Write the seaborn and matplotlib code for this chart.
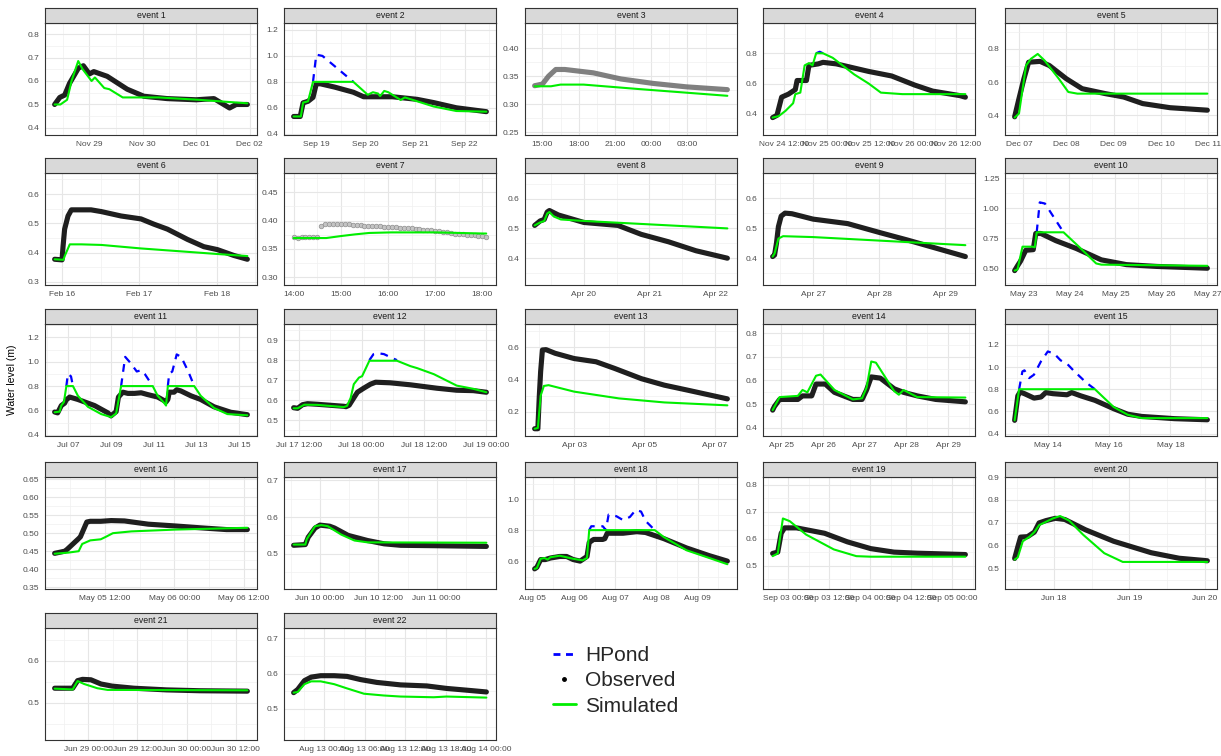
import numpy as np
import pandas as pd
import matplotlib
matplotlib.use("Agg")
import matplotlib.pyplot as plt
import matplotlib.dates as mdates
from matplotlib.lines import Line2D
from matplotlib.ticker import FixedLocator, FormatStrFormatter
import seaborn as sns

# 1. Dati (ore dall'inizio di ogni evento, livello in m)

base1 = "2016-11-28"
obs_t1 = [8.4, 10.7, 12.9, 15.1, 19.1, 21.3, 24, 26, 32, 41, 48.5, 59, 72, 80, 87, 90, 95]
obs_v1 = [0.50, 0.53, 0.54, 0.59, 0.655, 0.665, 0.63, 0.64, 0.62, 0.565, 0.535, 0.525, 0.52, 0.525, 0.485, 0.50, 0.50]
sim_t1 = [8.4, 11, 14, 16, 19, 21, 25, 26.5, 30.7, 33, 39, 55, 73, 95]
sim_v1 = [0.50, 0.50, 0.52, 0.60, 0.685, 0.65, 0.60, 0.615, 0.57, 0.565, 0.53, 0.53, 0.52, 0.505]

base2 = "2016-09-18"
obs_t2 = [13, 16.2, 17.6, 20, 22.4, 24, 26, 32.8, 42, 47, 55, 61, 73, 81, 92, 106.6]
obs_v2 = [0.533, 0.533, 0.638, 0.65, 0.68, 0.785, 0.785, 0.76, 0.72, 0.685, 0.685, 0.685, 0.665, 0.64, 0.60, 0.57]
sim_t2 = [13, 16.5, 17.6, 20, 22.4, 42, 49, 51.5, 54, 55, 57, 59, 65, 67, 73, 81, 92, 106.6]
sim_v2 = [0.533, 0.533, 0.64, 0.65, 0.80, 0.80, 0.70, 0.72, 0.71, 0.69, 0.73, 0.72, 0.66, 0.68, 0.65, 0.61, 0.575, 0.57]
hp_t2 = [22.4, 24, 27, 42]
hp_v2 = [0.80, 1.01, 1.0, 0.80]

base3 = "2016-10-05 12:00"
obs_t3 = [2.35, 3.0, 3.5, 4.1, 4.85, 7.2, 9.5, 12.2, 14.9, 18.3]
obs_v3 = [0.333, 0.336, 0.35, 0.362, 0.362, 0.356, 0.345, 0.337, 0.331, 0.326]
sim_t3 = [2.35, 3.7, 4.5, 6.4, 11, 18.3]
sim_v3 = [0.332, 0.332, 0.335, 0.335, 0.327, 0.315]

base4 = "2016-11-24"
obs_t4 = [8.9, 10.1, 11.4, 13.3, 15.2, 15.7, 18.3, 19, 21.6, 22.9, 26.6, 35.6, 42, 48.4, 53.4, 61, 62.5]
obs_v4 = [0.375, 0.39, 0.51, 0.53, 0.56, 0.62, 0.62, 0.72, 0.73, 0.74, 0.73, 0.68, 0.65, 0.59, 0.55, 0.52, 0.51]
sim_t4 = [8.9, 10.6, 12.5, 14.6, 15.2, 16.6, 17.8, 19, 20, 21, 22.9, 25.6, 31.6, 35.6, 39, 45, 62.5]
sim_v4 = [0.375, 0.385, 0.42, 0.47, 0.53, 0.54, 0.72, 0.735, 0.72, 0.80, 0.80, 0.77, 0.66, 0.60, 0.54, 0.53, 0.53]
hp_t4 = [21, 22, 22.9]
hp_v4 = [0.80, 0.81, 0.80]

base5 = "2016-12-07"
obs_t5 = [-2.2, 0, 2.5, 4.9, 10.7, 15.4, 24, 32, 43.8, 53, 62.7, 76.6, 95.5]
obs_v5 = [0.39, 0.50, 0.62, 0.72, 0.725, 0.70, 0.62, 0.56, 0.53, 0.51, 0.47, 0.445, 0.43]
sim_t5 = [-2.2, 0, 3.6, 6, 9.5, 13, 20.2, 25, 29.6, 67.5, 95.5]
sim_v5 = [0.385, 0.41, 0.70, 0.74, 0.77, 0.73, 0.62, 0.54, 0.53, 0.53, 0.53]

base6 = "2017-02-16"
obs_t6 = [-2.3, 0, 0.3, 0.8, 1.85, 2.9, 9, 12.2, 18.3, 24.5, 28.5, 32.7, 38.9, 44, 48.2, 53.3, 57.5]
obs_v6 = [0.377, 0.375, 0.42, 0.48, 0.525, 0.546, 0.546, 0.54, 0.525, 0.515, 0.497, 0.48, 0.445, 0.42, 0.41, 0.39, 0.377]
sim_t6 = [-2.3, 0.4, 0.9, 2.4, 6, 12.2, 24.5, 48.2, 57.5]
sim_v6 = [0.377, 0.375, 0.39, 0.428, 0.428, 0.426, 0.414, 0.395, 0.388]

base7 = "2017-03-10 14:00"
obs_m7 = [0, 5, 10, 15, 20, 25, 30, 35, 40, 45, 50, 55, 60, 65, 70, 75, 80, 85, 90, 95, 100, 105, 110,
          115, 120, 125, 130, 135, 140, 145, 150, 155, 160, 165, 170, 175, 180, 185, 190, 195, 200,
          205, 210, 215, 220, 225, 230, 235, 240, 245]
obs_v7 = [0.370, 0.369, 0.370, 0.370, 0.371, 0.371, 0.370, 0.390, 0.393, 0.394, 0.394, 0.394, 0.393,
          0.393, 0.393, 0.392, 0.392, 0.392, 0.391, 0.391, 0.391, 0.390, 0.390, 0.389, 0.389, 0.388,
          0.388, 0.387, 0.387, 0.386, 0.386, 0.385, 0.385, 0.384, 0.383, 0.383, 0.382, 0.381, 0.380,
          0.379, 0.378, 0.377, 0.377, 0.376, 0.375, 0.375, 0.374, 0.373, 0.372, 0.370]
sim_t7 = [0, 0.69, 1.0, 1.3, 1.6, 2.06, 3.0, 4.02, 4.08]
sim_v7 = [0.369, 0.369, 0.3725, 0.3755, 0.378, 0.379, 0.379, 0.377, 0.377]

base8 = "2017-04-20"
obs_t8 = [-18, -16, -14.5, -13.4, -12.6, -9.3, 0, 12.5, 21, 31, 41, 52.5]
obs_v8 = [0.51, 0.525, 0.53, 0.555, 0.56, 0.545, 0.52, 0.51, 0.48, 0.455, 0.425, 0.40]
sim_t8 = [-18, -16, -14.5, -13.4, -12.6, -11, -8.4, 0, 52.5]
sim_v8 = [0.51, 0.52, 0.525, 0.55, 0.555, 0.54, 0.53, 0.525, 0.50]

base9 = "2017-04-27"
obs_t9 = [-14.7, -14, -13.3, -12.6, -11.6, -10.2, -7.7, 0, 12.6, 24.3, 34.4, 55.4]
obs_v9 = [0.405, 0.41, 0.45, 0.505, 0.54, 0.55, 0.548, 0.53, 0.515, 0.485, 0.46, 0.405]
sim_t9 = [-14.7, -14, -12.6, -10.9, 0, 55.4]
sim_v9 = [0.405, 0.415, 0.465, 0.473, 0.47, 0.443]

base10 = "2017-05-23"
obs_t10 = [-4.5, -3, -1.4, 1.3, 5.2, 6.5, 9.2, 17, 27.6, 40.7, 53.8, 69.7, 96]
obs_v10 = [0.48, 0.52, 0.56, 0.65, 0.655, 0.79, 0.79, 0.73, 0.665, 0.57, 0.53, 0.515, 0.50]
sim_t10 = [-4.5, -3, -0.4, 4.6, 6, 7, 21, 29, 38, 40.7, 96]
sim_v10 = [0.48, 0.49, 0.68, 0.68, 0.675, 0.80, 0.80, 0.68, 0.54, 0.53, 0.52]
hp_t10 = [7, 8.6, 11.3, 21]
hp_v10 = [0.80, 1.05, 1.04, 0.80]

base11 = "2017-07-07"
obs_t11 = [-15.4, -12, -7.9, -4.1, -2.2, 0, 1.5, 10.8, 29.5, 44.5, 48, 53.8, 56.4, 61.4, 67, 74.4, 82,
           89.4, 100.6, 108, 110, 112, 113.6, 119, 122, 126.7, 138, 149, 164, 182.8, 201.5]
obs_v11 = [0.587, 0.58, 0.64, 0.66, 0.69, 0.70, 0.71, 0.69, 0.64, 0.58, 0.555, 0.59, 0.71, 0.75, 0.74,
           0.74, 0.745, 0.73, 0.71, 0.68, 0.67, 0.69, 0.75, 0.75, 0.77, 0.76, 0.72, 0.69, 0.63, 0.585, 0.565]
sim_t11 = [-15.4, -9.8, -7.9, -4.9, -2.2, 5.2, 10.8, 22, 37, 48.2, 53.8, 59.4, 95, 100.6, 108, 110,
           112, 141.7, 149, 164, 179, 201.5]
sim_v11 = [0.585, 0.59, 0.64, 0.67, 0.80, 0.80, 0.72, 0.63, 0.57, 0.545, 0.575, 0.80, 0.80, 0.72,
           0.66, 0.64, 0.80, 0.80, 0.72, 0.62, 0.57, 0.56]
hp_t11 = [-2.2, -0.5, 3, 5.2, 59.4, 64, 70, 77, 82, 86, 95, 112, 113.5, 117, 122, 127, 135, 141.7]
hp_v11 = [0.80, 0.90, 0.88, 0.80, 0.80, 1.04, 0.99, 0.92, 0.93, 0.90, 0.80, 0.80, 0.90, 0.92, 1.06,
          1.04, 0.92, 0.80]
hp_s11 = [1, 1, 1, 1, 2, 2, 2, 2, 2, 2, 2, 3, 3, 3, 3, 3, 3, 3]

base12 = "2017-07-17 12:00"
obs_t12 = [-1.07, -0.3, 0.65, 1.6, 3.5, 8.6, 9, 9.6, 10.5, 11.2, 12.4, 13.7, 14.7, 17.5, 21.4, 26.5,
           30.3, 33.5, 36]
obs_v12 = [0.563, 0.56, 0.578, 0.583, 0.58, 0.57, 0.568, 0.575, 0.612, 0.64, 0.66, 0.68, 0.69, 0.687,
           0.677, 0.66, 0.65, 0.648, 0.64]
sim_t12 = [-1.07, -0.3, 1, 3.5, 8.6, 9.2, 9.9, 10.5, 11.5, 12.1, 13.5, 18.8, 21.4, 22.7, 25.9, 30.3, 33.5, 36]
sim_v12 = [0.56, 0.56, 0.578, 0.577, 0.566, 0.572, 0.612, 0.68, 0.713, 0.72, 0.797, 0.797, 0.77, 0.76,
           0.73, 0.673, 0.657, 0.64]
hp_t12 = [13.5, 14.3, 15, 16.3, 17.5, 18.8]
hp_v12 = [0.80, 0.83, 0.835, 0.83, 0.815, 0.80]

base13 = "2018-04-03"
obs_t13 = [-26.9, -24.7, -23.7, -22.8, -21.6, -19.1, -12.9, 0, 15, 27.6, 46, 61.6, 77, 104.6]
obs_v13 = [0.095, 0.095, 0.30, 0.45, 0.583, 0.585, 0.5625, 0.53, 0.51, 0.469, 0.405, 0.365, 0.335, 0.28]
sim_t13 = [-26.9, -24.7, -22.8, -20.6, -17.4, 0, 30.6, 61.6, 104.6]
sim_v13 = [0.095, 0.10, 0.30, 0.36, 0.365, 0.325, 0.283, 0.258, 0.24]

base14 = "2018-04-25"
obs_t14 = [-5, -4, -1, 9.5, 12.2, 17.5, 20, 25.3, 30.6, 41.2, 46.5, 49.1, 51.8, 57, 65, 70.4, 78.3, 89, 106]
obs_v14 = [0.475, 0.49, 0.52, 0.52, 0.535, 0.535, 0.585, 0.585, 0.55, 0.52, 0.52, 0.56, 0.615, 0.61,
           0.565, 0.55, 0.535, 0.52, 0.51]
sim_t14 = [-5, -1, 9.5, 12.2, 15, 20, 22.6, 30.6, 41.2, 46.5, 49.1, 51.8, 54.5, 65, 67.7, 70.4, 78.3, 106]
sim_v14 = [0.475, 0.53, 0.535, 0.56, 0.55, 0.62, 0.625, 0.56, 0.52, 0.525, 0.57, 0.68, 0.675, 0.555,
           0.54, 0.56, 0.53, 0.528]

base15 = "2018-05-14"
obs_t15 = [-26, -23.5, -21.7, -18.3, -10.8, -5.3, -1.6, 3.9, 15, 18.7, 25.9, 36.9, 51.6, 62.6, 73.6, 99.3, 125]
obs_v15 = [0.52, 0.74, 0.775, 0.76, 0.72, 0.73, 0.77, 0.76, 0.75, 0.77, 0.74, 0.70, 0.625, 0.575, 0.555,
           0.535, 0.525]
sim_t15 = [-26, -22.5, 36.9, 44.2, 51.6, 62.6, 73.6, 125]
sim_v15 = [0.52, 0.80, 0.80, 0.72, 0.64, 0.57, 0.54, 0.54]
hp_t15 = [-22.5, -19.9, -18.3, -14.6, -10.9, -5.4, 0, 5, 10, 15, 20, 30, 36.9]
hp_v15 = [0.80, 0.96, 0.97, 0.90, 0.93, 1.05, 1.14, 1.12, 1.06, 1.03, 0.97, 0.86, 0.80]

base16 = "2018-05-05"
obs_t16 = [3.35, 5.1, 5.5, 7.5, 7.8, 8.9, 9.5, 11.3, 13.1, 15.4, 19.5, 24.2, 28.4, 33, 36.6]
obs_v16 = [0.444, 0.45, 0.455, 0.485, 0.49, 0.531, 0.533, 0.533, 0.535, 0.534, 0.525, 0.52, 0.515, 0.51, 0.51]
sim_t16 = [3.35, 5.7, 7.5, 8.1, 9.5, 11.3, 12.2, 13.4, 16.6, 24.2, 36.6]
sim_v16 = [0.443, 0.446, 0.45, 0.47, 0.48, 0.483, 0.49, 0.50, 0.505, 0.51, 0.515]

base17 = "2018-06-10"
obs_t17 = [-5.4, -3, -2.4, -1, 0, 2, 3, 5.8, 9.8, 13.2, 16.6, 23.3, 34.2]
obs_v17 = [0.523, 0.525, 0.545, 0.57, 0.578, 0.575, 0.57, 0.55, 0.536, 0.527, 0.523, 0.522, 0.52]
sim_t17 = [-5.4, -3, -2.7, -1, 0.3, 1.6, 4.4, 7.1, 9.8, 34.2]
sim_v17 = [0.525, 0.525, 0.54, 0.575, 0.578, 0.575, 0.552, 0.536, 0.531, 0.53]

base18 = "2018-08-05"
obs_t18 = [1.1, 2.4, 4.6, 7.3, 10.3, 15.7, 19.7, 23.6, 27.6, 31.6, 32.9, 35.5, 40.8, 42, 43.4, 52.6,
           60.6, 65.7, 76.4, 89.6, 102.9, 113.4]
obs_v18 = [0.55, 0.56, 0.61, 0.61, 0.62, 0.63, 0.63, 0.61, 0.60, 0.63, 0.72, 0.74, 0.74, 0.745, 0.78,
           0.78, 0.79, 0.785, 0.745, 0.685, 0.635, 0.60]
sim_t18 = [1.1, 2.4, 4.6, 6.8, 8.7, 10.3, 15.7, 23.6, 29, 31.6, 32.9, 71.1, 76.4, 89.6, 102.9, 113.4]
sim_v18 = [0.55, 0.555, 0.615, 0.62, 0.61, 0.625, 0.635, 0.615, 0.605, 0.62, 0.80, 0.80, 0.755, 0.67,
           0.62, 0.58]
hp_t18 = [32.9, 34.1, 40.8, 42.6, 44.2, 48.7, 52.6, 56.6, 60, 63.1, 65.7, 71.1]
hp_v18 = [0.80, 0.825, 0.825, 0.80, 0.90, 0.89, 0.865, 0.885, 0.93, 0.92, 0.86, 0.80]

base19 = "2018-09-03"
obs_t19 = [-4.5, -3, -2, -1, 2.5, 10.7, 17.4, 24.2, 31, 37.8, 51.9]
obs_v19 = [0.545, 0.55, 0.62, 0.64, 0.64, 0.62, 0.588, 0.563, 0.55, 0.546, 0.541]
sim_t19 = [-4.5, -3, -1.5, 0.5, 5.3, 13.4, 20, 24.2, 51.9]
sim_v19 = [0.535, 0.545, 0.675, 0.665, 0.615, 0.56, 0.535, 0.533, 0.533]

base20 = "2019-06-18"
obs_t20 = [-12.6, -11.5, -10.7, -8.5, -6.3, -4.8, -2.6, 0.4, 3.4, 10, 19, 31, 39.9, 48.9]
obs_v20 = [0.545, 0.60, 0.638, 0.64, 0.66, 0.70, 0.71, 0.72, 0.715, 0.67, 0.62, 0.57, 0.546, 0.535]
sim_t20 = [-12.6, -11.6, -10, -7.8, -6.3, -4.8, -3.3, -0.3, 1.9, 4.8, 9.3, 16, 21.9, 48.9]
sim_v20 = [0.54, 0.55, 0.62, 0.64, 0.66, 0.69, 0.70, 0.72, 0.73, 0.71, 0.648, 0.568, 0.53, 0.53]

base21 = "2019-06-29"
obs_t21 = [-8.2, -3.8, -2.6, -1.4, 0.65, 3.1, 5.8, 11.1, 19.1, 27.2, 38.8]
obs_v21 = [0.535, 0.535, 0.553, 0.556, 0.555, 0.545, 0.54, 0.535, 0.531, 0.529, 0.528]
sim_t21 = [-8.2, -3.8, -2.6, -1, 2.2, 4.7, 38.8]
sim_v21 = [0.534, 0.532, 0.552, 0.545, 0.535, 0.531, 0.530]

base22 = "2019-08-13"
obs_t22 = [-4.5, -3.9, -2.9, -1.9, -0.5, 1.5, 3.4, 5.4, 7.8, 11.3, 15.2, 18.1, 21.1, 24]
obs_v22 = [0.546, 0.555, 0.58, 0.59, 0.594, 0.594, 0.592, 0.583, 0.575, 0.568, 0.565, 0.558, 0.553, 0.548]
sim_t22 = [-4.5, -3.9, -2.9, -1.9, -0.5, 1.5, 3.4, 5.9, 8.8, 11.3, 16.2, 18.1, 24]
sim_v22 = [0.546, 0.548, 0.57, 0.578, 0.578, 0.57, 0.558, 0.543, 0.538, 0.535, 0.533, 0.535, 0.532]

# 2. Assi: limiti y, tacche y, tacche x e formato

ylims = [(0.37, 0.847), (0.39, 1.254), (0.245, 0.445), (0.26, 1.0), (0.28, 0.957),
         (0.289, 0.672), (0.286, 0.484), (0.31, 0.686), (0.31, 0.684), (0.36, 1.295),
         (0.39, 1.31), (0.422, 0.98), (0.05, 0.744), (0.366, 0.838), (0.379, 1.387),
         (0.345, 0.656), (0.404, 0.709), (0.42, 1.143), (0.413, 0.829), (0.412, 0.90),
         (0.412, 0.678), (0.412, 0.729)]
yticks = [[0.4, 0.5, 0.6, 0.7, 0.8], [0.4, 0.6, 0.8, 1.0, 1.2], [0.25, 0.30, 0.35, 0.40],
          [0.4, 0.6, 0.8], [0.4, 0.6, 0.8], [0.3, 0.4, 0.5, 0.6], [0.30, 0.35, 0.40, 0.45],
          [0.4, 0.5, 0.6], [0.4, 0.5, 0.6], [0.50, 0.75, 1.00, 1.25], [0.4, 0.6, 0.8, 1.0, 1.2],
          [0.5, 0.6, 0.7, 0.8, 0.9], [0.2, 0.4, 0.6], [0.4, 0.5, 0.6, 0.7, 0.8],
          [0.4, 0.6, 0.8, 1.0, 1.2], [0.35, 0.40, 0.45, 0.50, 0.55, 0.60, 0.65], [0.5, 0.6, 0.7],
          [0.6, 0.8, 1.0], [0.5, 0.6, 0.7, 0.8], [0.5, 0.6, 0.7, 0.8, 0.9], [0.5, 0.6], [0.5, 0.6, 0.7]]
ydec = [1, 1, 2, 1, 1, 1, 2, 1, 1, 2, 1, 1, 1, 1, 1, 2, 1, 1, 1, 1, 1, 1]

xticks = [
    ["2016-11-29", "2016-11-30", "2016-12-01", "2016-12-02"],
    ["2016-09-19", "2016-09-20", "2016-09-21", "2016-09-22"],
    ["2016-10-05 15:00", "2016-10-05 18:00", "2016-10-05 21:00", "2016-10-06 00:00", "2016-10-06 03:00"],
    ["2016-11-24 12:00", "2016-11-25 00:00", "2016-11-25 12:00", "2016-11-26 00:00", "2016-11-26 12:00"],
    ["2016-12-07", "2016-12-08", "2016-12-09", "2016-12-10", "2016-12-11"],
    ["2017-02-16", "2017-02-17", "2017-02-18"],
    ["2017-03-10 14:00", "2017-03-10 15:00", "2017-03-10 16:00", "2017-03-10 17:00", "2017-03-10 18:00"],
    ["2017-04-20", "2017-04-21", "2017-04-22"],
    ["2017-04-27", "2017-04-28", "2017-04-29"],
    ["2017-05-23", "2017-05-24", "2017-05-25", "2017-05-26", "2017-05-27"],
    ["2017-07-07", "2017-07-09", "2017-07-11", "2017-07-13", "2017-07-15"],
    ["2017-07-17 12:00", "2017-07-18 00:00", "2017-07-18 12:00", "2017-07-19 00:00"],
    ["2018-04-03", "2018-04-05", "2018-04-07"],
    ["2018-04-25", "2018-04-26", "2018-04-27", "2018-04-28", "2018-04-29"],
    ["2018-05-14", "2018-05-16", "2018-05-18"],
    ["2018-05-05 12:00", "2018-05-06 00:00", "2018-05-06 12:00"],
    ["2018-06-10 00:00", "2018-06-10 12:00", "2018-06-11 00:00"],
    ["2018-08-05", "2018-08-06", "2018-08-07", "2018-08-08", "2018-08-09"],
    ["2018-09-03 00:00", "2018-09-03 12:00", "2018-09-04 00:00", "2018-09-04 12:00", "2018-09-05 00:00"],
    ["2019-06-18", "2019-06-19", "2019-06-20"],
    ["2019-06-29 00:00", "2019-06-29 12:00", "2019-06-30 00:00", "2019-06-30 12:00"],
    ["2019-08-13 00:00", "2019-08-13 06:00", "2019-08-13 12:00", "2019-08-13 18:00", "2019-08-14 00:00"],
]
d_fmt = "%b %d"
h_fmt = "%H:%M"
dh_fmt = "%b %d %H:%M"
xfmt = [d_fmt, d_fmt, h_fmt, dh_fmt, d_fmt, d_fmt, h_fmt, d_fmt, d_fmt, d_fmt, d_fmt, dh_fmt,
        d_fmt, d_fmt, d_fmt, dh_fmt, dh_fmt, d_fmt, dh_fmt, d_fmt, dh_fmt, dh_fmt]

# 3. Tabelle per seaborn

def to_df(base, hours, values, seg=None):
    df = pd.DataFrame({"time": pd.Timestamp(base) + pd.to_timedelta(hours, unit="h"),
                       "level": values})
    df["seg"] = seg if seg is not None else 1
    return df

g = globals()
events = []
for i in range(1, 23):
    base = g["base%d" % i]
    if i == 7:
        obs = to_df(base, np.array(obs_m7) / 60.0, obs_v7)
    else:
        obs = to_df(base, g["obs_t%d" % i], g["obs_v%d" % i])
    sim = to_df(base, g["sim_t%d" % i], g["sim_v%d" % i])
    hp = None
    if "hp_t%d" % i in g:
        hp = to_df(base, g["hp_t%d" % i], g["hp_v%d" % i], g.get("hp_s%d" % i))
    events.append((obs, sim, hp))

# 4. Figura

sns.set_style("white")
plt.rcParams["font.family"] = ["Liberation Sans", "DejaVu Sans"]

W, H = 1221, 756
fig = plt.figure(figsize=(W / 100, H / 100), dpi=100)
lefts = [45, 284, 525, 763, 1005]
tops = [8, 158, 309, 462, 613]
pw, strip_h, panel_h = 212, 15, 112

green = "#00ee00"
border = "#333333"

def minors(vals):
    vals = np.asarray(vals, dtype=float)
    step = vals[1] - vals[0]
    mids = (vals[:-1] + vals[1:]) / 2
    return np.concatenate([[vals[0] - step / 2], mids, [vals[-1] + step / 2]])

for i, (obs, sim, hp) in enumerate(events):
    r, c = divmod(i, 5)
    x0, y0 = lefts[c], tops[r]
    ax = fig.add_axes([x0 / W, 1 - (y0 + strip_h + panel_h) / H, pw / W, panel_h / H])
    sax = fig.add_axes([x0 / W, 1 - (y0 + strip_h) / H, pw / W, strip_h / H])

    # striscia con il titolo
    sax.set_facecolor("#d9d9d9")
    sax.set_xticks([])
    sax.set_yticks([])
    for s in sax.spines.values():
        s.set_color(border)
        s.set_linewidth(0.8)
    sax.text(0.5, 0.5, "event %d" % (i + 1), ha="center", va="center", fontsize=6.3,
             color="#1a1a1a", transform=sax.transAxes)

    if hp is not None:
        sns.lineplot(data=hp, x="time", y="level", units="seg", estimator=None, ax=ax,
                     color="#0000ff", linewidth=1.6, dashes=False, linestyle=(0, (3.5, 3)), sort=False)
    if i == 6:
        sns.scatterplot(data=obs, x="time", y="level", ax=ax, color="#c4c4c4",
                        edgecolor="#8f8f8f", s=11, linewidth=0.5, zorder=3)
    else:
        col = "#6e6e6e" if i == 2 else "black"
        sns.lineplot(data=obs, x="time", y="level", ax=ax, color=col, linewidth=3.7,
                     alpha=0.88, solid_capstyle="round", solid_joinstyle="round", sort=False)
    sns.lineplot(data=sim, x="time", y="level", ax=ax, color=green, linewidth=1.5, sort=False, zorder=4)

    # limiti x come in ggplot (5% di margine)
    allt = pd.concat([obs["time"], sim["time"]] + ([hp["time"]] if hp is not None else []))
    tmin, tmax = mdates.date2num(allt.min()), mdates.date2num(allt.max())
    pad = (tmax - tmin) * 0.05
    ax.set_xlim(tmin - pad, tmax + pad)
    ax.set_ylim(*ylims[i])

    xt = mdates.date2num(pd.to_datetime(xticks[i]))
    ax.xaxis.set_major_locator(FixedLocator(xt))
    ax.xaxis.set_minor_locator(FixedLocator(minors(xt)))
    ax.xaxis.set_major_formatter(mdates.DateFormatter(xfmt[i]))
    ax.yaxis.set_major_locator(FixedLocator(yticks[i]))
    ax.yaxis.set_minor_locator(FixedLocator(minors(yticks[i])))
    ax.yaxis.set_major_formatter(FormatStrFormatter("%%.%df" % ydec[i]))

    ax.set_axisbelow(True)
    ax.grid(which="major", color="#e6e6e6", linewidth=0.8)
    ax.grid(which="minor", color="#f0f0f0", linewidth=0.5)
    ax.tick_params(which="major", length=2.5, width=0.6, color=border, labelsize=6,
                   labelcolor="#4d4d4d", pad=1.5)
    ax.tick_params(which="minor", length=0)
    for s in ax.spines.values():
        s.set_color(border)
        s.set_linewidth(0.8)
    ax.set_xlabel("")
    ax.set_ylabel("")
    if ax.get_legend() is not None:
        ax.get_legend().remove()

fig.text(12 / W, 1 - 380 / H, "Water level (m)", rotation=90, ha="center", va="center",
         fontsize=7.5, color="black")

# 5. Legenda

handles = [Line2D([], [], color="#0000ff", linewidth=2, linestyle=(0, (2.5, 2))),
           Line2D([], [], color="black", marker=".", linestyle="none", markersize=5),
           Line2D([], [], color=green, linewidth=2)]
fig.legend(handles, ["HPond", "Observed", "Simulated"], loc="upper left",
           bbox_to_anchor=(553 / W, 1 - 646 / H), frameon=False, fontsize=15,
           handlelength=1.1, handletextpad=0.45, labelspacing=0.3, borderpad=0, borderaxespad=0)

plt.savefig("out.png", dpi=100)
